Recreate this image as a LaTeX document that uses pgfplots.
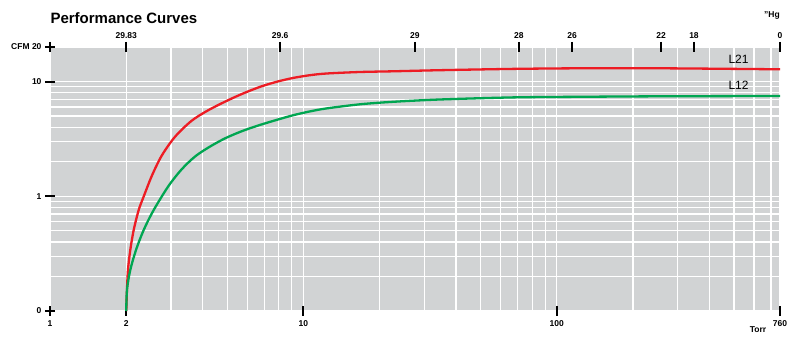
\documentclass[border=0pt]{standalone}
\usepackage{fontspec}
\setmainfont{Liberation Sans}
\usepackage{pgfplots}
\pgfplotsset{compat=1.18}
\definecolor{bg}{RGB}{209,211,212}
\definecolor{cred}{RGB}{237,28,36}
\definecolor{cgreen}{RGB}{0,166,81}
\begin{document}
\begin{tikzpicture}
\useasboundingbox (-50pt,-29pt) rectangle (750pt,311pt);
\begin{axis}[
 at={(0pt,0pt)}, anchor=south west,
 scale only axis, width=730pt, height=264pt,
 xmode=log, ymode=log,
 xmin=1, xmax=760, ymin=0.1, ymax=20,
 axis background/.style={fill=bg},
 axis x line*=bottom, axis y line*=left,
 axis line style={draw=none},
 xtick={1,2,10,100,760}, xticklabels={1,2,10,100,760},
 ytick={0.1,1,10,20}, yticklabels={0,1,10,CFM 20},
 minor xtick={3,4,5,6,7,8,9,20,30,40,50,60,70,80,90,200,300,400,500,600,700},
 minor ytick={0.2,0.3,0.4,0.5,0.6,0.7,0.8,0.9,2,3,4,5,6,7,8,9},
 xmajorgrids, xminorgrids, ymajorgrids, yminorgrids,
 major grid style={white, line width=1.2pt},
 minor grid style={white, line width=1.2pt},
 major tick length=10pt, minor tick length=0pt,
 tick align=center,
 major tick style={black, line width=2pt},
 minor tick style={draw=none},
 ticklabel style={font=\bfseries\fontsize{8.5}{10}\selectfont},
 /pgf/number format/assume math mode=true,
 xticklabel style={yshift=-1pt},
 clip=false,
]
\addplot[cred, line width=2.3pt, smooth, tension=0.5] coordinates {
(2,0.1) (2.0125,0.1524) (2.031,0.2277) (2.0741,0.3401) (2.1397,0.5082)
(2.2389,0.7591) (2.3430,0.9954) (2.5270,1.5203) (2.7636,2.2707)
(3.1137,3.2986) (3.6165,4.5387) (4.2016,5.6037) (5.0256,6.8494)
(5.8164,7.9136) (6.7729,9.0171) (7.8669,9.9680) (9.1297,10.758)
(10.618,11.357) (12.361,11.751) (16.728,12.110) (22.633,12.281)
(34.591,12.556) (67.18,12.888) (123.5,13.043) (257.8,13.043) (760,12.784)};
\addplot[cgreen, line width=2.3pt, smooth, tension=0.5] coordinates {
(2,0.1) (2.0125,0.1524) (2.0741,0.2277) (2.1849,0.3401) (2.3430,0.5082)
(2.5658,0.7591) (2.9353,1.2289) (3.3064,1.7146) (3.7250,2.2082)
(4.2016,2.6454) (4.8747,3.1754) (5.6620,3.6621) (6.5761,4.1134)
(7.8669,4.6399) (9.1297,5.0893) (10.618,5.4923) (12.361,5.8341)
(16.728,6.3337) (22.633,6.6596) (34.591,6.9745) (67.18,7.2747)
(123.5,7.3627) (257.8,7.4369) (760,7.4818)};
\end{axis}
\begin{axis}[
 at={(0pt,0pt)}, anchor=south west,
 scale only axis, width=730pt, height=264pt,
 xmode=log, xmin=1, xmax=760, ymin=0, ymax=1,
 axis x line*=top, axis y line=none,
 axis line style={draw=none},
 xtick={1,2,8.09,27.56,70.9,114.8,257.8,347.8,760},
 xticklabels={,29.83,29.6,29,28,26,22,18,0},
 minor xtick={},
 major tick length=10pt, tick align=center,
 major tick style={black, line width=2pt},
 ticklabel style={font=\bfseries\fontsize{8.5}{10}\selectfont},
 /pgf/number format/assume math mode=true,
]
\end{axis}
\node[anchor=west, font=\bfseries\fontsize{15}{18}\selectfont] at (-3pt,293pt) {Performance Curves};
\node[anchor=base west, font=\fontsize{12}{14}\selectfont] at (675pt,247pt) {L21};
\node[anchor=base west, font=\fontsize{12}{14}\selectfont] at (675pt,221pt) {L12};
\node[font=\bfseries\fontsize{8.5}{10}\selectfont] at (722pt,296pt) {"Hg};
\node[font=\bfseries\fontsize{8.5}{10}\selectfont] at (708pt,-19pt) {Torr};
\end{tikzpicture}
\end{document}
